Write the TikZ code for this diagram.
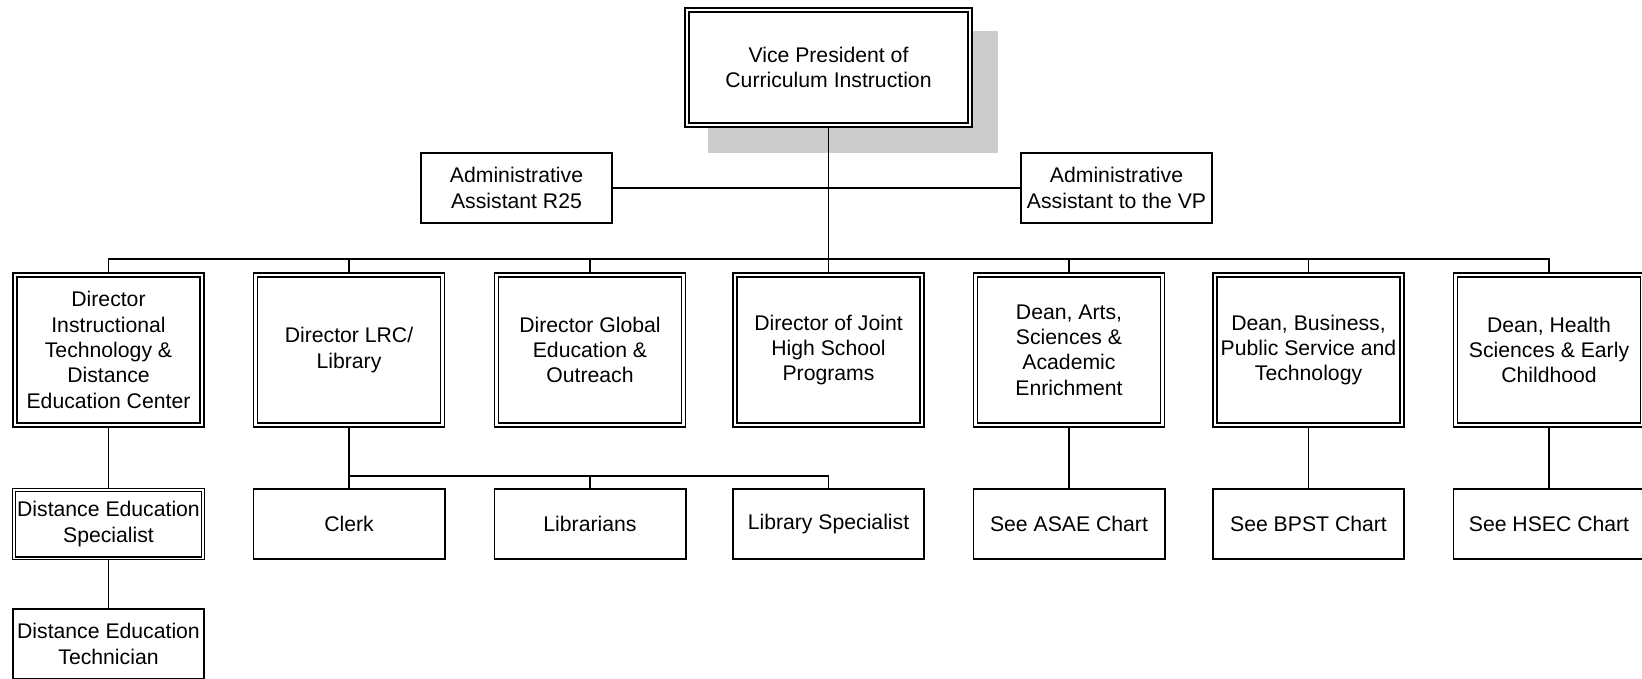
\documentclass[tikz,border=0pt]{standalone}
\usepackage{fontspec}
\setmainfont{Liberation Sans}
\usetikzlibrary{positioning}

\begin{document}
\begin{tikzpicture}[x=1pt,y=-1pt,
  box/.style={draw,fill=white,line width=1.8pt,minimum width=191.2pt,minimum height=70.2pt,
    inner sep=0pt,align=center,font=\fontsize{21.2}{25.3}\selectfont},
  dbox/.style={box,double,line width=1.7pt,double distance=2.4pt,minimum width=187pt,minimum height=150pt},
  sbox/.style={box,double,line width=1.2pt,double distance=1.6pt,minimum width=189pt,minimum height=68.6pt},
  link/.style={line width=1.8pt}]
      \useasboundingbox (0,0) rectangle (1642,678);
      \clip (0,0) rectangle (1642,678);
      %% top
      \fill[gray!40] (708,31) rectangle (998,153);
      \node[dbox,minimum width=283pt,minimum height=115pt] (vp) at (828.5,67.5) {Vice President of\\Curriculum Instruction};
      \node[box] (ar25) at (516.5,188) {Administrative\\Assistant R25};
      \node[box] (avp) at (1116.5,188) {Administrative\\Assistant to the VP};
      \coordinate (bus) at (828.5,259);
      %% directors and deans
      \node[dbox] (itde) at (108.5,350) {Director\\Instructional\\Technology \&\\Distance\\Education Center};
      \node[dbox] (lrc) at (349,350) {Director LRC/\\Library};
      \node[dbox] (glob) at (590,350) {Director Global\\Education \&\\Outreach};
      \node[dbox] (jhs) at (828.5,350) {Director of Joint\\High School\\Programs};
      \node[dbox] (asae) at (1069,350) {Dean, Arts,\\Sciences \&\\Academic\\Enrichment};
      \node[dbox] (bpst) at (1308.5,350) {Dean, Business,\\Public Service and\\Technology};
      \node[dbox] (hsec) at (1549,350) {Dean, Health\\Sciences \& Early\\Childhood};
      %% lower row
      \node[sbox] (despec) at (108.5,524) {Distance Education\\Specialist};
      \node[box] (detech) at (108.5,644) {Distance Education\\Technician};
      \node[box] (clerk) at (349,524) {Clerk};
      \node[box] (libr) at (590,524) {Librarians};
      \node[box] (lspec) at (828.5,524) {Library Specialist};
      \node[box] (seeasae) at (1069,524) {See ASAE Chart};
      \node[box] (seebpst) at (1308.5,524) {See BPST Chart};
      \node[box] (seehsec) at (1549,524) {See HSEC Chart};
      \coordinate (libbus) at (349,476);
      %% lines
      \draw[link] (vp.south) -- (bus);
      \draw[link] (ar25.east) -- (avp.west);
      \draw[link] (itde.north) |- (bus);
      \draw[link] (lrc.north) |- (bus);
      \draw[link] (glob.north) |- (bus);
      \draw[link] (jhs.north) -- (bus);
      \draw[link] (asae.north) |- (bus);
      \draw[link] (bpst.north) |- (bus);
      \draw[link] (hsec.north) |- (bus);
      \draw[link] (itde.south) -- (despec.north);
      \draw[link] (despec.south) -- (detech.north);
      \draw[link] (lrc.south) -- (clerk.north);
      \draw[link] (libr.north) |- (libbus);
      \draw[link] (lspec.north) |- (libbus);
      \draw[link] (asae.south) -- (seeasae.north);
      \draw[link] (bpst.south) -- (seebpst.north);
      \draw[link] (hsec.south) -- (seehsec.north);
  \end{tikzpicture}
\end{document}
